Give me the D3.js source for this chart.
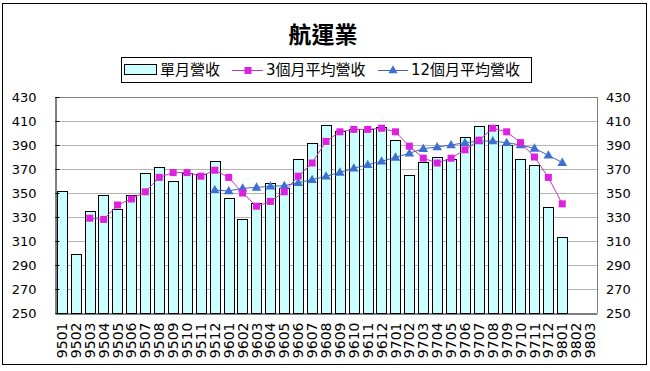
<!DOCTYPE html>
<html>
<head>
<meta charset="utf-8">
<script src="https://cdn.jsdelivr.net/npm/d3@7"></script>
<style>
  body { margin: 0; background: #fff; }
  text { font-family: "DejaVu Sans", "Noto Sans CJK TC", sans-serif; }
</style>
</head>
<body>
<div id="chart1"></div>
<script>

const width = 650;
const height = 371;

// months (ROC year + month)
const months = ["9501","9502","9503","9504","9505","9506","9507","9508","9509","9510","9511","9512",
  "9601","9602","9603","9604","9605","9606","9607","9608","9609","9610","9611","9612",
  "9701","9702","9703","9704","9705","9706","9707","9708","9709","9710","9711","9712",
  "9801","9802","9803"];

// 單月營收
const monthly = [352,299,335,348,337,348,367,372,360,367,366,377,
  346,328,342,358,354,378,392,407,402,403,403,405,
  394,365,376,380,378,397,406,407,390,378,373,338,
  313,null,null];

// 3個月平均營收
const avg3 = [null,null,329,328,340,345,351,363,367,367,364,369,
  363,350,339,343,351,364,375,393,401,403,403,404,
  401,389,379,375,379,386,394,404,401,392,380,363,
  341,null,null];

// 12個月平均營收
const avg12 = [null,null,null,null,null,null,null,null,null,null,null,352.5,
  351.7,353.9,354.7,355.6,356.1,358.6,361.1,363.9,367.2,370.6,373.6,376.4,
  379.7,383.1,387,388.3,390,391.9,393.3,393.3,391.9,390,387.2,381.4,
  375.3,null,null];

const yTicks = [250,270,290,310,330,350,370,390,410,430];

const title = "航運業";
const seriesNames = ["單月營收","3個月平均營收","12個月平均營收"];

const marginTop = 97, marginBottom = 58, marginLeft = 55, marginRight = 53;

const svg = d3.select("#chart1").append("svg")
    .attr("width", width)
    .attr("height", height);

// outer frame
svg.append("rect")
    .attr("x", 2.5).attr("y", 3.5)
    .attr("width", 644).attr("height", 361)
    .attr("fill", "#fff").attr("stroke", "#000");

const x = d3.scaleBand()
    .domain(months)
    .range([marginLeft, width - marginRight]);

const y = d3.scaleLinear()
    .domain([250, 430])
    .range([height - marginBottom, marginTop]);

// grid lines
svg.append("g")
  .selectAll("line")
  .data(yTicks.filter(d => d > 250))
  .join("line")
    .attr("x1", marginLeft).attr("x2", width - marginRight)
    .attr("y1", d => Math.round(y(d)) + 0.5).attr("y2", d => Math.round(y(d)) + 0.5)
    .attr("stroke", d => d === 430 ? "#808080" : "#b4b4b4");

// right border of plot
svg.append("line")
    .attr("x1", width - marginRight + 0.5).attr("x2", width - marginRight + 0.5)
    .attr("y1", y(430)).attr("y2", y(250))
    .attr("stroke", "#808080");

// bars
const bw = x.bandwidth() * 0.74;
svg.append("g")
  .selectAll("rect")
  .data(months.map((m, i) => ({m, v: monthly[i]})).filter(d => d.v != null))
  .join("rect")
    .attr("x", d => Math.round(x(d.m) + (x.bandwidth() - bw) / 2) + 0.5)
    .attr("y", d => Math.round(y(d.v)) + 0.5)
    .attr("width", Math.round(bw))
    .attr("height", d => Math.round(y(250)) - Math.round(y(d.v)))
    .attr("fill", "#ccffff")
    .attr("stroke", "#000")
    .attr("stroke-width", 1);

// left axis
const yAxisL = svg.append("g")
    .attr("transform", "translate(" + (marginLeft + 0.5) + ",0)")
    .call(d3.axisLeft(y).tickValues(yTicks).tickSizeInner(-4).tickSizeOuter(0).tickPadding(20));
yAxisL.select(".domain").attr("stroke", "#000");
yAxisL.selectAll("text").attr("font-size", 13).attr("fill", "#000")
    .attr("font-family", "DejaVu Sans").attr("dx", 1);

// right axis labels
svg.append("g")
  .selectAll("text")
  .data(yTicks)
  .join("text")
    .attr("x", 606)
    .attr("y", d => y(d))
    .attr("dy", "0.36em")
    .attr("font-size", 13)
    .text(d => d);

// bottom axis
const xAxis = svg.append("g")
    .attr("transform", "translate(0," + (y(250) + 0.5) + ")")
    .call(d3.axisBottom(x).tickSize(0).tickPadding(0));
xAxis.select(".domain").attr("stroke", "#000");
xAxis.selectAll("text")
    .attr("font-size", 14)
    .attr("fill", "#000")
    .attr("text-anchor", "end")
    .attr("transform", "rotate(-90)")
    .attr("x", -9)
    .attr("y", 0)
    .attr("dy", "0.36em");

// line series
function drawLine(values, color) {
  const pts = months.map((m, i) => ({m, v: values[i]})).filter(d => d.v != null);
  svg.append("path")
    .datum(pts)
    .attr("fill", "none")
    .attr("stroke", color)
    .attr("stroke-width", 1)
    .attr("d", d3.line().x(d => x(d.m) + x.bandwidth() / 2).y(d => y(d.v)));
  return pts;
}

const p12 = drawLine(avg12, "#3f62b8");
const p3 = drawLine(avg3, "#c03ac0");

svg.append("g")
  .selectAll("path")
  .data(p12)
  .join("path")
    .attr("d", d3.symbol(d3.symbolTriangle, 40))
    .attr("transform", d => "translate(" + (x(d.m) + x.bandwidth() / 2) + "," + (y(d.v) + 0.5) + ")")
    .attr("fill", "#3f6fd0");

svg.append("g")
  .selectAll("rect")
  .data(p3)
  .join("rect")
    .attr("x", d => x(d.m) + x.bandwidth() / 2 - 3.5)
    .attr("y", d => y(d.v) - 3.5)
    .attr("width", 7).attr("height", 7)
    .attr("fill", "#e020e0");

// title
svg.append("text")
    .attr("x", 323).attr("y", 43)
    .attr("text-anchor", "middle")
    .attr("font-family", "Noto Sans CJK TC")
    .attr("font-weight", "bold")
    .attr("font-size", 23)
    .text(title);

// legend
const legend = svg.append("g");
legend.append("rect")
    .attr("x", 121.5).attr("y", 57.5)
    .attr("width", 410).attr("height", 25)
    .attr("fill", "#fff").attr("stroke", "#000");

const ly = 70;
legend.append("rect")
    .attr("x", 124.5).attr("y", ly - 5.5)
    .attr("width", 32).attr("height", 10)
    .attr("fill", "#ccffff").attr("stroke", "#000");

legend.append("line")
    .attr("x1", 232).attr("x2", 263).attr("y1", ly + 0.5).attr("y2", ly + 0.5)
    .attr("stroke", "#c03ac0");
legend.append("rect")
    .attr("x", 244.5).attr("y", ly - 3)
    .attr("width", 7).attr("height", 7)
    .attr("fill", "#e020e0");

legend.append("line")
    .attr("x1", 378).attr("x2", 408).attr("y1", ly + 0.5).attr("y2", ly + 0.5)
    .attr("stroke", "#3f62b8");
legend.append("path")
    .attr("d", d3.symbol(d3.symbolTriangle, 36))
    .attr("transform", "translate(393," + (ly + 0.5) + ")")
    .attr("fill", "#3f6fd0");

const lx = [160, 266, 411];
legend.selectAll("text.lg")
  .data(seriesNames)
  .join("text")
    .attr("class", "lg")
    .attr("x", (d, i) => lx[i])
    .attr("y", ly)
    .attr("dy", "0.36em")
    .attr("font-family", "Liberation Sans, Noto Sans CJK TC")
    .attr("font-size", 15)
    .text(d => d);

</script>
</body>
</html>
